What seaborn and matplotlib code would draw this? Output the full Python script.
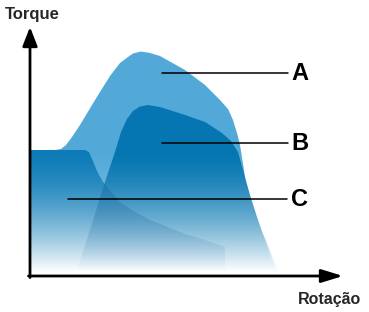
import numpy as np
import matplotlib
matplotlib.use("Agg")
import matplotlib.pyplot as plt
import seaborn as sns
import pandas as pd

# ---- data (x = rotation, y = torque, arbitrary units) ----
rot_a = [0, 25, 31, 36, 42, 50, 65, 80, 90, 98, 103, 111, 120, 130, 155, 175, 190, 198, 203, 207, 210, 214, 218, 226, 235, 242, 248, 250]
torque_a = [126, 126, 127, 131, 139, 151, 176, 200, 213, 219, 222.5, 224.5, 223, 220, 206, 191, 176, 167, 156, 143, 131, 106, 78, 54, 38, 20, 6, 0]

rot_b = [46, 47, 60, 73, 85, 91, 97, 103, 110, 118, 130, 155, 175, 192, 201, 208, 213, 220, 227, 235, 242, 248]
torque_b = [0, 6, 46, 88, 124, 144, 157, 165, 169.5, 171, 169, 161, 154, 143, 135, 124, 106, 81, 59, 36, 16, 0]

rot_c = [0, 55, 59, 62, 67, 73, 82, 90, 105, 120, 140, 155, 175, 195, 195]
torque_c = [126, 126, 124, 117, 105, 94, 83, 74, 64, 56, 48, 42, 36, 29, 0]

labels = ["A", "B", "C"]
label_y = [203, 133, 77]
label_x0 = [132, 132, 38]
label_x1 = [258, 258, 257]

XMAX, YMAX = 313, 248

sns.set_theme(style="white")
plt.rcParams['font.family'] = ['Liberation Sans', 'DejaVu Sans']

fig = plt.figure(figsize=(3.69, 3.12), dpi=100)
ax = fig.add_axes([30/369, 36/312, 313/369, 248/312])
ax.set_xlim(0, XMAX)
ax.set_ylim(0, YMAX)
for s in ax.spines.values():
    s.set_visible(False)
ax.set_xticks([])
ax.set_yticks([])
ax.set_facecolor("white")


def hex2rgb(h):
    h = h.lstrip('#')
    return np.array([int(h[i:i+2], 16) / 255 for i in (0, 2, 4)])


N = 400
ys = np.linspace(0, YMAX, N)
py = 276 - ys
frac = np.clip((py - 150) / 122, 0, 1) ** 1.6  # white fraction


def gradient_img(color, alpha_mode=False, amax=1.0):
    c = hex2rgb(color)
    img = np.ones((N, 1, 4))
    if alpha_mode:
        img[:, 0, :3] = c
        img[:, 0, 3] = amax * (1 - frac)
    else:
        img[:, 0, :3] = c[None, :] * (1 - frac[:, None]) + frac[:, None]
    return img


def layer(x, y, color, **kw):
    poly = ax.fill_between(x, y, 0, facecolor="none", edgecolor="none")
    im = ax.imshow(gradient_img(color, **kw), extent=[0, XMAX, 0, YMAX],
                   origin="lower", aspect="auto", interpolation="bilinear")
    im.set_clip_path(poly.get_paths()[0], ax.transData)
    return im


layer(rot_a, torque_a, "#52a9d8")
layer(rot_b, torque_b, "#0576b1")
layer(rot_c, torque_c, "#0c7bb7")

# overlap of B and C is darker
xg = np.linspace(46, 195, 300)
yb = np.interp(xg, rot_b, torque_b)
yc = np.interp(xg, rot_c[:-1], torque_c[:-1])
layer(xg, np.minimum(yb, yc), "#00508c", alpha_mode=True, amax=0.35)

ax.set_xlim(0, XMAX)
ax.set_ylim(0, YMAX)

# leader lines and labels
for lab, yv, x0, x1 in zip(labels, label_y, label_x0, label_x1):
    df = pd.DataFrame({"x": [x0, x1], "y": [yv, yv]})
    sns.lineplot(data=df, x="x", y="y", ax=ax, color="black", lw=1.1)
    ax.text(270, yv, lab, ha="center", va="center", fontsize=17,
            fontweight="bold", color="black")
ax.set_xlabel("")
ax.set_ylabel("")
ax.set_xlim(0, XMAX)
ax.set_ylim(0, YMAX)

# axes arrows
ax.annotate("", xy=(0, 249), xytext=(0, -1.5), xycoords="data",
            arrowprops=dict(arrowstyle="-|>,head_length=1.15,head_width=0.45",
                            mutation_scale=10, lw=2, color="black",
                            shrinkA=0, shrinkB=0), annotation_clip=False)
ax.annotate("", xy=(313, 0), xytext=(-1.5, 0), xycoords="data",
            arrowprops=dict(arrowstyle="-|>,head_length=1.3,head_width=0.4",
                            mutation_scale=10, lw=2, color="black",
                            shrinkA=0, shrinkB=0), annotation_clip=False)

fig.text(5/369, 1 - 19.5/312, "Torque", ha="left", va="baseline",
         fontsize=12, fontweight="bold")
fig.text(298/369, 1 - 304/312, "Rotação", ha="left", va="baseline",
         fontsize=11.5, fontweight="bold")

fig.savefig("out.png", dpi=100)
